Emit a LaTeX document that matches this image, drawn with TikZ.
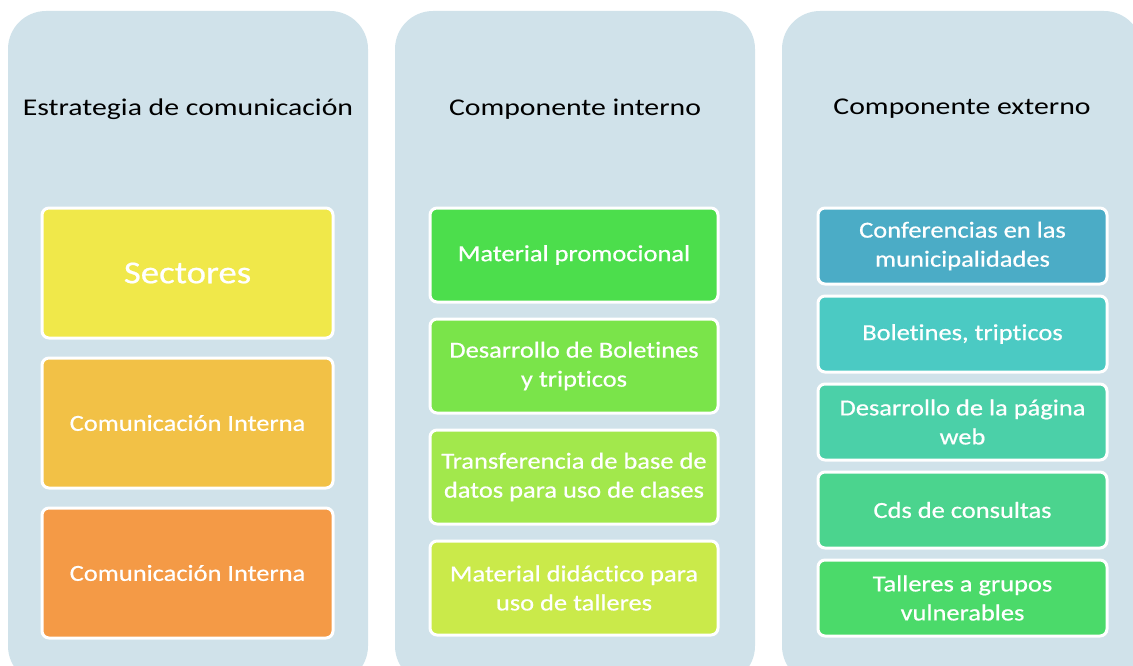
\documentclass[tikz,border=0pt]{standalone}
\usepackage{fontspec}
\setmainfont{Carlito}[FakeStretch=1.12,Ligatures=NoCommon]
\newfontfamily\headfont{Carlito}[FakeStretch=1.24,Ligatures=NoCommon]
\newfontfamily\itemfont{Carlito}[FakeStretch=1.15,FakeBold=0.6,Ligatures=NoCommon]
\usetikzlibrary{positioning}
\definecolor{panelblue}{HTML}{D0E2EA}
\definecolor{sectyellow}{HTML}{F0E84A}
\definecolor{ciorange}{HTML}{F2C146}
\definecolor{cidark}{HTML}{F49A46}
\definecolor{greenA}{HTML}{4CDE4C}
\definecolor{greenB}{HTML}{7AE44A}
\definecolor{greenC}{HTML}{A2E84C}
\definecolor{greenD}{HTML}{CAEA4A}
\definecolor{tealA}{HTML}{4BACC6}
\definecolor{tealB}{HTML}{4BCAC3}
\definecolor{tealC}{HTML}{4BD0A8}
\definecolor{tealD}{HTML}{4BD48E}
\definecolor{tealE}{HTML}{4BDA6A}
\tikzstyle{panel}=[fill=panelblue,rounded corners=38pt,minimum width=360pt,minimum height=673pt,inner sep=0pt]
\tikzstyle{heading}=[text=black,font=\headfont\fontsize{24}{29}\selectfont]
\tikzstyle{item}=[draw=white,line width=3pt,rounded corners=7pt,text=white,align=center,inner sep=2pt,outer sep=0pt,font=\itemfont\fontsize{23}{29}\selectfont]

\begin{document}
\begin{tikzpicture}[x=1pt,y=-1pt]
\useasboundingbox (0,0) rectangle (1133,666);
\clip (0,0) rectangle (1133,666);

\node[panel] (P1) at (188,347.5) {};
\node[panel] (P2) at (575,347.5) {};
\node[panel] (P3) at (962,347.5) {};

\node[heading] (H1) at (188,109) {Estrategia de comunicación};
\node[heading] (H2) at (575,109) {Componente interno};
\node[heading] (H3) at (962,109) {Componente externo};

% estrategia
\node[item,fill=sectyellow,minimum width=291pt,minimum height=130pt,font=\itemfont\fontsize{32}{38}\selectfont] (S) at (187.5,273) {Sectores};
\node[item,fill=ciorange,minimum width=291pt,minimum height=130pt] (CI1) [below=20pt of S] {Comunicación Interna};
\node[item,fill=cidark,minimum width=291pt,minimum height=130pt] (CI2) [below=20pt of CI1] {Comunicación Interna};

% componente interno
\node[item,fill=greenA,minimum width=288pt,minimum height=94pt] (MP) at (574,255) {Material promocional};
\node[item,fill=greenB,minimum width=288pt,minimum height=94pt] (DB) [below=17pt of MP] {Desarrollo de Boletines\\y tripticos};
\node[item,fill=greenC,minimum width=288pt,minimum height=94pt] (TB) [below=17pt of DB] {Transferencia de base de\\datos para uso de clases};
\node[item,fill=greenD,minimum width=288pt,minimum height=94pt] (MD) [below=17pt of TB] {Material didáctico para\\uso de talleres};

% componente externo
\node[item,fill=tealA,minimum width=289pt,minimum height=76pt] (CM) at (962.5,246) {Conferencias en las\\municipalidades};
\node[item,fill=tealB,minimum width=289pt,minimum height=76pt] (BT) [below=12pt of CM] {Boletines, tripticos};
\node[item,fill=tealC,minimum width=289pt,minimum height=76pt] (PW) [below=12pt of BT] {Desarrollo de la página\\web};
\node[item,fill=tealD,minimum width=289pt,minimum height=76pt] (CD) [below=12pt of PW] {Cds de consultas};
\node[item,fill=tealE,minimum width=289pt,minimum height=76pt] (TG) [below=12pt of CD] {Talleres a grupos\\vulnerables};

\end{tikzpicture}
\end{document}
